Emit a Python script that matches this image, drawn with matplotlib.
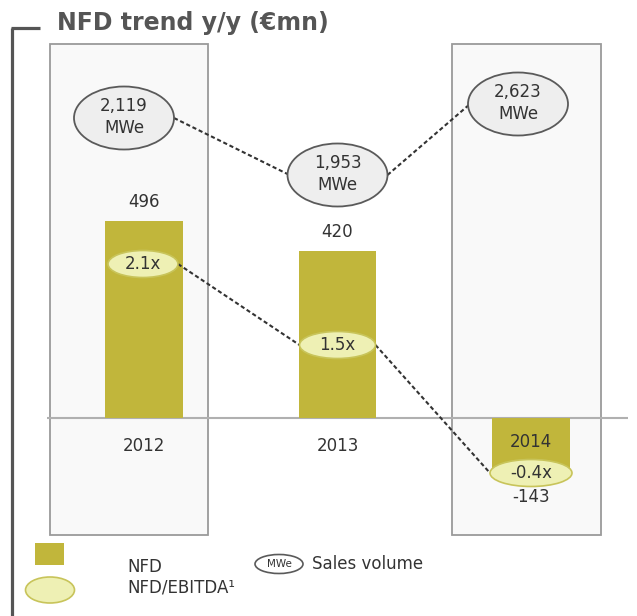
import matplotlib
matplotlib.use("Agg")
import matplotlib.pyplot as plt
from matplotlib.patches import Ellipse, Rectangle
import numpy as np

# chart values
years = ["2012", "2013", "2014"]
nfd = [496, 420, -143]                # net financial debt, EUR mn
ratio = [2.1, 1.5, -0.4]              # NFD / EBITDA
mwe = [2119, 1953, 2623]              # sales volume, MWe

# layout (pixels, top-left origin) - the bubbles are not value-scaled in the original
mwe_y = [118, 175, 104]
mwe_dx = [-20, 0, -13]
ratio_y = [264, 345, 473]
ratio_dx = [-1, 0, 0]
ratio_w = [70, 76, 82]

W, H = 637, 616
BAR_C = "#c1b63b"
TXT = "#333333"
RAT_FILL, RAT_EDGE = "#eef0b4", "#c8c45a"
MWE_FILL, MWE_EDGE = "#eeeeee", "#5a5a5a"

fig = plt.figure(figsize=(W / 100, H / 100), dpi=100)
fig.patch.set_facecolor("white")

# background overlay in pixel coords
bg = fig.add_axes([0, 0, 1, 1], zorder=0)
bg.set_xlim(0, W)
bg.set_ylim(H, 0)
bg.axis("off")

# bar axes: zero at y=418px, 0.397 px per EUR mn, categories 193.5px apart
px_per = 0.397
top_px, bot_px = 40, 540
bx = fig.add_axes([47.25 / W, (H - bot_px) / H, 580.5 / W, (bot_px - top_px) / H], zorder=1)
bx.set_xlim(-0.5, 2.5)
bx.set_ylim(-(bot_px - 418) / px_per, (418 - top_px) / px_per)
bx.axis("off")
bx.patch.set_alpha(0)

# foreground overlay for bubbles and connectors
fg = fig.add_axes([0, 0, 1, 1], zorder=2)
fg.set_xlim(0, W)
fg.set_ylim(H, 0)
fg.axis("off")
fg.patch.set_alpha(0)

# bracket + title
bg.plot([12, 12], [28, H], color="#555555", lw=2.3, solid_capstyle="butt")
bg.plot([11, 40], [28, 28], color="#555555", lw=2.3, solid_capstyle="butt")
bg.text(57, 23, "NFD trend y/y (\u20acmn)", fontsize=17, fontweight="bold",
        color="#555555", va="center", ha="left")

# highlight boxes for 2012 and 2014
for x0, x1 in [(50, 208), (452, 601)]:
    bg.add_patch(Rectangle((x0, 44), x1 - x0, 535 - 44, facecolor="#f9f9f9",
                           edgecolor="#9a9a9a", lw=1.3))

# bars
x = np.arange(len(years))
bx.bar(x, nfd, width=0.4, color=BAR_C, zorder=2)
bx.axhline(0, color="#b0b0b0", lw=1.5, zorder=1)

for i, (yr, v) in enumerate(zip(years, nfd)):
    if v >= 0:
        bx.annotate(str(v), (i, v), xytext=(0, 14), textcoords="offset points",
                    ha="center", va="center", fontsize=12, color=TXT)
        bx.annotate(yr, (i, 0), xytext=(0, -20), textcoords="offset points",
                    ha="center", va="center", fontsize=12, color=TXT)
    else:
        bx.annotate(str(v), (i, v), xytext=(0, -16), textcoords="offset points",
                    ha="center", va="center", fontsize=12, color=TXT, zorder=5)
        bx.annotate(yr, (i, 0), xytext=(0, -17), textcoords="offset points",
                    ha="center", va="center", fontsize=12, color=TXT, zorder=5)

# bar centres in pixel coords (through the bar axes' scale)
cx = [fg.transData.inverted().transform(bx.transData.transform((i, 0)))[0] for i in x]

# sales volume bubbles
mwe_pts = [(cx[i] + mwe_dx[i], mwe_y[i]) for i in x]
for i in range(len(x) - 1):
    (x1, y1), (x2, y2) = mwe_pts[i], mwe_pts[i + 1]
    fg.plot([x1 + 50, x2 - 48], [y1, y2], color="#333333", lw=1.5, ls=(0, (2, 1.3)), zorder=1)
for i, (px, py) in enumerate(mwe_pts):
    fg.add_patch(Ellipse((px, py), 100, 63, facecolor=MWE_FILL, edgecolor=MWE_EDGE, lw=1.3, zorder=3))
    fg.text(px, py - 1, "{:,}\nMWe".format(mwe[i]), ha="center", va="center",
            fontsize=12, color=TXT, linespacing=1.35, zorder=4)

# NFD/EBITDA bubbles
rat_pts = [(cx[i] + ratio_dx[i], ratio_y[i]) for i in x]
for i in range(len(x) - 1):
    (x1, y1), (x2, y2) = rat_pts[i], rat_pts[i + 1]
    fg.plot([x1 + ratio_w[i] / 2, x2 - ratio_w[i + 1] / 2], [y1, y2], color="#333333",
            lw=1.5, ls=(0, (2, 1.3)), zorder=1)
for i, (px, py) in enumerate(rat_pts):
    fg.add_patch(Ellipse((px, py), ratio_w[i], 27, facecolor=RAT_FILL, edgecolor=RAT_EDGE,
                         lw=1.2, zorder=3))
    fg.text(px, py, "{}x".format(ratio[i]), ha="center", va="center",
            fontsize=12, color=TXT, zorder=4)

# legend
fg.add_patch(Rectangle((35, 543), 29, 22, facecolor=BAR_C, edgecolor="none"))
fg.add_patch(Ellipse((50, 590), 49, 26, facecolor=RAT_FILL, edgecolor=RAT_EDGE, lw=1.2))
fg.text(127, 567, "NFD", fontsize=12, color=TXT, va="center", ha="left")
fg.text(127, 588, "NFD/EBITDA\u00b9", fontsize=12, color=TXT, va="center", ha="left")
fg.add_patch(Ellipse((279, 564), 48, 19, facecolor="white", edgecolor=MWE_EDGE, lw=1.2))
fg.text(279, 564, "MWe", fontsize=7.5, color=TXT, va="center", ha="center")
fg.text(312, 564, "Sales volume", fontsize=12, color=TXT, va="center", ha="left")

fig.savefig("out.png", dpi=100)
